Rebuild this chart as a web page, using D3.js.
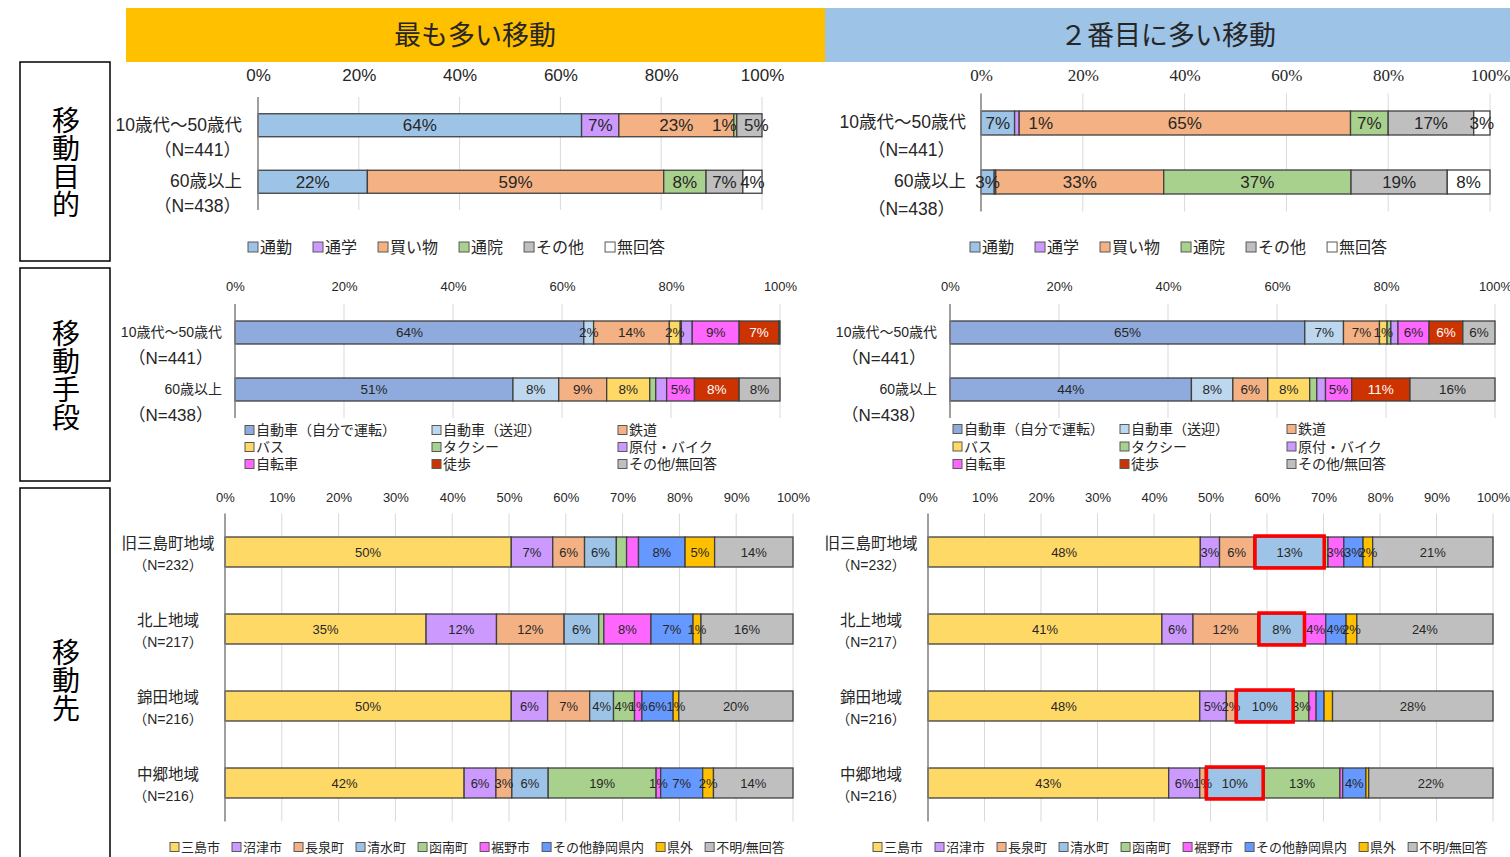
<!DOCTYPE html>
<html>
<head>
<meta charset="utf-8">
<script src="https://cdn.jsdelivr.net/npm/d3@7"></script>
<style>
  body { margin: 0; background: #fff; }
  svg { display: block; font-family: "Liberation Sans", "Noto Sans CJK JP", sans-serif; }
</style>
</head>
<body>
<div id="chart"></div>
<script>
// ---- data ----
var ageGroups = ["10歳代～50歳代", "60歳以上"];
var ageN = ["（N=441）", "（N=438）"];

var purposeCats = ["通勤", "通学", "買い物", "通院", "その他", "無回答"];
var purposeColors = ["#9dc3e6", "#cc99ff", "#f4b183", "#a9d18e", "#bfbfbf", "#ffffff"];
var purposeTop = [[64.2, 7.4, 22.8, 0.6, 5.0, 0], [21.7, 0, 58.8, 8.4, 7.3, 3.8]];
var purposeSecond = [[6.6, 0.9, 65.1, 7.4, 16.8, 3.2], [2.6, 0.3, 33.0, 36.8, 18.9, 8.4]];

var meansCats = ["自動車（自分で運転）", "自動車（送迎）", "鉄道", "バス", "タクシー", "原付・バイク", "自転車", "徒歩", "その他/無回答"];
var meansColors = ["#8faadc", "#bdd7ee", "#f4b183", "#ffd966", "#a9d18e", "#cc99ff", "#ff66ff", "#cc3300", "#bfbfbf"];
var meansTop = [[64.0, 1.8, 13.9, 2.0, 0.2, 2.0, 8.6, 7.3, 0.2], [51.0, 8.4, 8.8, 7.9, 1.1, 2.0, 5.1, 8.2, 7.5]];
var meansTopHidden = [[4, 5, 8], [4, 5]];
var meansSecond = [[65.1, 7.1, 6.6, 1.4, 0.7, 1.3, 5.7, 6.2, 5.9], [44.3, 7.6, 6.4, 7.7, 1.3, 1.6, 4.8, 10.7, 15.6]];
var meansSecondHidden = [[4, 5], [4, 5]];

var regions = ["旧三島町地域", "北上地域", "錦田地域", "中郷地域"];
var regionN = ["（N=232）", "（N=217）", "（N=216）", "（N=216）"];
var destCats = ["三島市", "沼津市", "長泉町", "清水町", "函南町", "裾野市", "その他静岡県内", "県外", "不明/無回答"];
var destColors = ["#ffd966", "#cc99ff", "#f4b183", "#9dc3e6", "#a9d18e", "#ff66ff", "#6699ff", "#ffc000", "#bfbfbf"];
var destTop = [
  [50.4, 7.3, 5.6, 5.6, 1.8, 2.1, 8.2, 5.2, 13.8],
  [35.4, 12.4, 11.9, 6.1, 0.9, 8.3, 7.4, 1.4, 16.2],
  [50.4, 6.4, 7.4, 4.2, 3.7, 1.3, 5.5, 1.0, 20.1],
  [42.1, 5.6, 2.8, 6.4, 19.0, 0.8, 7.4, 1.9, 14.0]
];
var destTopHidden = [[4, 5], [4], [], []];
var destSecond = [
  [48.2, 3.4, 6.1, 12.6, 0.5, 2.8, 3.4, 1.7, 21.3],
  [41.4, 5.5, 11.5, 8.4, 0, 3.6, 3.6, 1.9, 24.1],
  [48.1, 4.7, 1.6, 10.4, 2.6, 1.3, 1.4, 1.5, 28.4],
  [42.6, 5.5, 1.0, 10.4, 13.4, 0.5, 4.1, 0.5, 22.0]
];
var destSecondHidden = [[4], [], [5, 6, 7], [5, 7]];

var ticks20 = [0, 20, 40, 60, 80, 100];
var ticks10 = [0, 10, 20, 30, 40, 50, 60, 70, 80, 90, 100];

var sideTitles = ["移動目的", "移動手段", "移動先"];

// ---- svg ----
var svg = d3.select("#chart").append("svg")
  .attr("width", 1510)
  .attr("height", 857);

// header bands
svg.append("rect").attr("x", 126).attr("y", 8).attr("width", 699).attr("height", 54).attr("fill", "#ffc000");
svg.append("rect").attr("x", 825).attr("y", 8).attr("width", 685).attr("height", 54).attr("fill", "#9dc3e6");
svg.append("text").attr("x", 475).attr("y", 38).attr("text-anchor", "middle").attr("dominant-baseline", "middle")
  .attr("font-size", 27).attr("fill", "#262626").text("最も多い移動");
svg.append("text").attr("x", 1168).attr("y", 38).attr("text-anchor", "middle").attr("dominant-baseline", "middle")
  .attr("font-size", 27).attr("fill", "#262626").text("２番目に多い移動");

// side boxes
var boxes = [{ y: 62, h: 199, cy: 166 }, { y: 268, h: 213, cy: 379 }, { y: 488, h: 380, cy: 684 }];
boxes.forEach(function (b, i) {
  svg.append("rect").attr("x", 20).attr("y", b.y).attr("width", 90).attr("height", b.h)
    .attr("fill", "none").attr("stroke", "#000").attr("stroke-width", 1.5);
  var chars = sideTitles[i].split("");
  chars.forEach(function (c, j) {
    svg.append("text").attr("x", 66).attr("y", b.cy + (j - (chars.length - 1) / 2) * 28)
      .attr("text-anchor", "middle").attr("dominant-baseline", "middle")
      .attr("font-size", 28).attr("fill", "#000").text(c);
  });
});

function drawChart(o) {
  var x = d3.scaleLinear().domain([0, 100]).range([o.x0, o.x1]);
  var y = d3.scalePoint().domain(d3.range(o.data.length)).range([o.top, o.bottom]).padding(0.5);
  var g = svg.append("g");

  // gridlines
  g.selectAll(".grid").data(o.ticks.slice(1)).enter().append("line")
    .attr("x1", function (d) { return x(d); }).attr("x2", function (d) { return x(d); })
    .attr("y1", o.top).attr("y2", o.bottom)
    .attr("stroke", "#d9d9d9").attr("stroke-width", 1);

  // tick labels
  var ax = g.append("g").attr("transform", "translate(0," + o.tickY + ")")
    .call(d3.axisTop(x).tickValues(o.ticks).tickFormat(function (d) { return d + "%"; }).tickSize(0).tickPadding(0));
  ax.select(".domain").remove();
  ax.selectAll("text").attr("dy", "0.35em").attr("font-size", o.tickFont)
    .attr("font-family", o.tickFamily || "Liberation Sans").attr("fill", "#262626");

  // segments
  var segs = [];
  o.data.forEach(function (row, i) {
    var c = 0;
    row.forEach(function (v, k) {
      segs.push({ row: i, k: k, v: v, a: c, b: c + v });
      c += v;
    });
  });
  var shown = segs.filter(function (d) { return d.v > 0; });

  g.selectAll(".bar").data(shown).enter().append("rect")
    .attr("x", function (d) { return x(d.a); })
    .attr("width", function (d) { return x(d.b) - x(d.a); })
    .attr("y", function (d) { return y(d.row) - o.barH / 2; })
    .attr("height", o.barH)
    .attr("fill", function (d) { return o.colors[d.k]; })
    .attr("stroke", "#404040").attr("stroke-width", 1.3);

  // axis line
  g.append("line").attr("x1", o.x0).attr("x2", o.x0).attr("y1", o.top).attr("y2", o.bottom)
    .attr("stroke", "#7f7f7f").attr("stroke-width", 1.5);

  // value labels
  var hidden = o.hidden || o.data.map(function () { return []; });
  var dx = o.labelDx || {};
  g.selectAll(".lbl").data(shown.filter(function (d) {
    return d.v >= 0.5 && hidden[d.row].indexOf(d.k) < 0;
  })).enter().append("text")
    .attr("x", function (d) { return (x(d.a) + x(d.b)) / 2 + (dx[d.row + "-" + d.k] || 0); })
    .attr("y", function (d) { return y(d.row); })
    .attr("dy", "0.36em").attr("text-anchor", "middle")
    .attr("font-size", o.labelFont)
    .attr("fill", function (d) { return d.k === o.whiteIdx ? "#fff" : "#262626"; })
    .text(function (d) { return Math.round(d.v) + "%"; });

  // red highlight boxes
  if (o.highlight !== undefined) {
    g.selectAll(".hl").data(segs.filter(function (d) { return d.k === o.highlight; })).enter().append("rect")
      .attr("x", function (d) { return x(d.a) + 1; })
      .attr("width", function (d) { return x(d.b) - x(d.a) - 2; })
      .attr("y", function (d) { return y(d.row) - o.barH / 2 - 1; })
      .attr("height", o.barH + 2)
      .attr("fill", "none").attr("stroke", "#ff0000").attr("stroke-width", 3.5);
  }

  // category labels
  o.cats.forEach(function (c, i) {
    g.append("text").attr("x", o.nameX).attr("y", y(i) + o.nameDy)
      .attr("text-anchor", o.anchor).attr("dominant-baseline", "middle")
      .attr("font-size", o.nameFont).attr("fill", "#262626").text(c);
    g.append("text").attr("x", o.nX).attr("y", y(i) + o.nDy)
      .attr("text-anchor", o.anchor).attr("dominant-baseline", "middle")
      .attr("font-size", o.nFont).attr("fill", "#262626").text(o.ns[i]);
  });
}

// inline legend (one row)
function rowLegend(names, colors, x0, y0, fs, sq, gap) {
  var xx = x0;
  names.forEach(function (n, i) {
    svg.append("rect").attr("x", xx).attr("y", y0 - sq / 2).attr("width", sq).attr("height", sq)
      .attr("fill", colors[i]).attr("stroke", "#595959").attr("stroke-width", 1);
    var t = svg.append("text").attr("x", xx + sq + 2).attr("y", y0 + 1.5).attr("dominant-baseline", "middle")
      .attr("font-size", fs).attr("fill", "#262626").text(n);
    xx += sq + 2 + t.node().getComputedTextLength() + gap;
  });
}

// grid legend (3 columns)
function gridLegend(names, colors, cols, y0, dy, fs) {
  names.forEach(function (n, i) {
    var cx = cols[i % 3], cy = y0 + Math.floor(i / 3) * dy;
    svg.append("rect").attr("x", cx).attr("y", cy - 4.5).attr("width", 9).attr("height", 9)
      .attr("fill", colors[i]).attr("stroke", "#595959").attr("stroke-width", 1);
    svg.append("text").attr("x", cx + 11).attr("y", cy + 1.5).attr("dominant-baseline", "middle")
      .attr("font-size", fs).attr("fill", "#262626").text(n);
  });
}

// ---- purpose ----
drawChart({ x0: 258, x1: 762, top: 97, bottom: 210, barH: 23, ticks: ticks20, tickY: 75, tickFont: 17,
  data: purposeTop, colors: purposeColors, labelFont: 17, labelDx: { "0-3": -11, "0-4": 7 },
  cats: ageGroups, ns: ageN, anchor: "end", nameX: 242, nameDy: 1, nX: 241, nDy: 26, nameFont: 17.5, nFont: 17.5 });
drawChart({ x0: 981, x1: 1490, top: 93.5, bottom: 211.5, barH: 24, ticks: ticks20, tickY: 75, tickFont: 17,
  tickFamily: "Liberation Sans Narrow",
  data: purposeSecond, colors: purposeColors, labelFont: 17, hidden: [[], [1]], labelDx: { "0-1": 24 },
  cats: ageGroups, ns: ageN, anchor: "end", nameX: 966, nameDy: 0, nX: 955, nDy: 28, nameFont: 17.5, nFont: 17.5 });
rowLegend(purposeCats, purposeColors, 248, 247, 16, 10, 21);
rowLegend(purposeCats, purposeColors, 970, 247, 16, 10, 21);

// ---- means ----
drawChart({ x0: 235, x1: 780, top: 304, bottom: 418, barH: 23, ticks: ticks20, tickY: 286, tickFont: 13,
  data: meansTop, colors: meansColors, labelFont: 13.5, hidden: meansTopHidden, whiteIdx: 7,
  cats: ageGroups, ns: ageN, anchor: "end", nameX: 222, nameDy: 1, nX: 213, nDy: 27, nameFont: 14, nFont: 17 });
drawChart({ x0: 950, x1: 1495, top: 304, bottom: 418, barH: 23, ticks: ticks20, tickY: 286, tickFont: 13,
  data: meansSecond, colors: meansColors, labelFont: 13.5, hidden: meansSecondHidden, whiteIdx: 7,
  cats: ageGroups, ns: ageN, anchor: "end", nameX: 937, nameDy: 1, nX: 926, nDy: 27, nameFont: 14, nFont: 17 });
gridLegend(meansCats, meansColors, [245, 432, 618], 430, 17, 14);
gridLegend(meansCats, meansColors, [953, 1120, 1287], 429, 17.5, 14);

// ---- destination ----
drawChart({ x0: 225, x1: 793, top: 513.5, bottom: 821.5, barH: 30, ticks: ticks10, tickY: 497, tickFont: 13,
  data: destTop, colors: destColors, labelFont: 13, hidden: destTopHidden,
  cats: regions, ns: regionN, anchor: "middle", nameX: 168, nameDy: -7, nX: 168, nDy: 14, nameFont: 15.5, nFont: 14 });
drawChart({ x0: 928, x1: 1493, top: 513.5, bottom: 821.5, barH: 30, ticks: ticks10, tickY: 497, tickFont: 13,
  data: destSecond, colors: destColors, labelFont: 13, hidden: destSecondHidden, highlight: 3,
  cats: regions, ns: regionN, anchor: "middle", nameX: 871, nameDy: -7, nX: 871, nDy: 14, nameFont: 15.5, nFont: 14 });
rowLegend(destCats, destColors, 170, 847, 13, 9, 12);
rowLegend(destCats, destColors, 873, 847, 13, 9, 12);
</script>
</body>
</html>
